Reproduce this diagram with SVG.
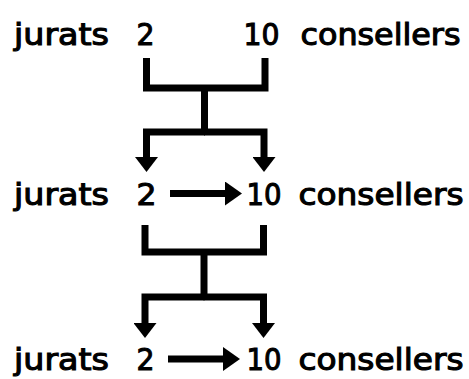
<svg xmlns="http://www.w3.org/2000/svg" width="469" height="379" viewBox="0 0 469 379">
  <style>
    .t { font-family: "DejaVu Sans", "Liberation Sans", sans-serif; font-weight: normal; font-size: 30px; fill: #000; stroke: #000; stroke-width: 1.1px; }
    .c { fill: none; stroke: #000; stroke-width: 7; stroke-linejoin: miter; stroke-linecap: butt; }
  </style>
  <defs>
    <marker id="headDown" markerUnits="userSpaceOnUse" viewBox="0 0 15 23" refX="0" refY="11.5" markerWidth="15" markerHeight="23" orient="auto">
      <path d="M0,0 L15,11.5 L0,23 Z" fill="#000"/>
    </marker>
    <marker id="headRight" markerUnits="userSpaceOnUse" viewBox="0 0 17 24" refX="0" refY="12" markerWidth="17" markerHeight="24" orient="auto">
      <path d="M0,0 L17,12 L0,24 Z" fill="#000"/>
    </marker>
  </defs>
  <rect width="469" height="379" fill="#fff"/>

  <g id="row1-jurats"><text class="t" x="14" y="45" textLength="95" lengthAdjust="spacingAndGlyphs">jurats</text></g>
  <g id="row1-2"><text class="t" x="136.5" y="45" textLength="18" lengthAdjust="spacingAndGlyphs">2</text></g>
  <g id="row1-10"><text class="t" x="243.5" y="45" textLength="36" lengthAdjust="spacingAndGlyphs">10</text></g>
  <g id="row1-consellers"><text class="t" x="300.5" y="45" textLength="160" lengthAdjust="spacingAndGlyphs">consellers</text></g>

  <g id="row2-jurats"><text class="t" x="14" y="205" textLength="95" lengthAdjust="spacingAndGlyphs">jurats</text></g>
  <g id="row2-2"><text class="t" x="136.5" y="205" textLength="20" lengthAdjust="spacingAndGlyphs">2</text></g>
  <g id="row2-10"><text class="t" x="246.5" y="205" textLength="35" lengthAdjust="spacingAndGlyphs">10</text></g>
  <g id="row2-consellers"><text class="t" x="298.5" y="205" textLength="165" lengthAdjust="spacingAndGlyphs">consellers</text></g>

  <g id="row3-jurats"><text class="t" x="14" y="370" textLength="95" lengthAdjust="spacingAndGlyphs">jurats</text></g>
  <g id="row3-2"><text class="t" x="136.5" y="370" textLength="18" lengthAdjust="spacingAndGlyphs">2</text></g>
  <g id="row3-10"><text class="t" x="246.5" y="370" textLength="35" lengthAdjust="spacingAndGlyphs">10</text></g>
  <g id="row3-consellers"><text class="t" x="298.5" y="370" textLength="165" lengthAdjust="spacingAndGlyphs">consellers</text></g>

  <g id="connectors">
    <!-- bracket 1 -->
    <path class="c" d="M146.5,58 V88 H265 V58"/>
    <path class="c" d="M204.5,88 V132"/>
    <path class="c" d="M205,132 H146.5 V157" marker-end="url(#headDown)"/>
    <path class="c" d="M204,132 H264 V157" marker-end="url(#headDown)"/>
    <!-- row 2 arrow -->
    <path class="c" d="M170,193.5 H225" marker-end="url(#headRight)"/>
    <!-- bracket 2 -->
    <path class="c" d="M145,225 V252 H263.5 V225"/>
    <path class="c" d="M204,252 V297"/>
    <path class="c" d="M204.5,297 H145 V323" marker-end="url(#headDown)"/>
    <path class="c" d="M203.5,297 H263.5 V323" marker-end="url(#headDown)"/>
    <!-- row 3 arrow -->
    <path class="c" d="M168,359 H223" marker-end="url(#headRight)"/>
  </g>
</svg>
